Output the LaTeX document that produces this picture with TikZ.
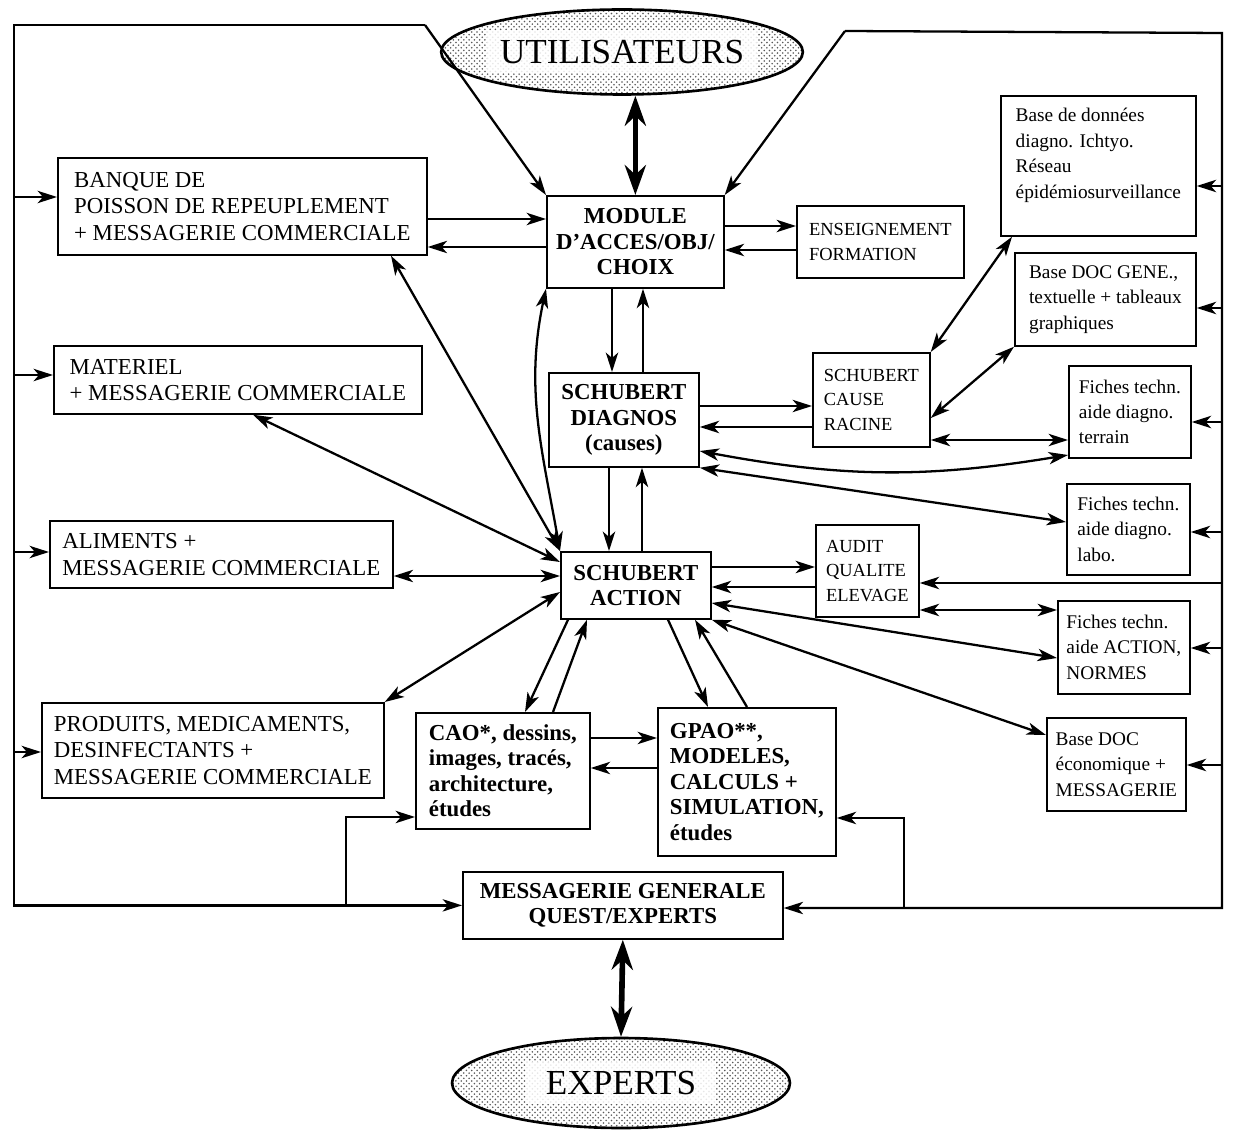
\documentclass[tikz,border=0pt]{standalone}
\usepackage{fontspec}
\setmainfont{Liberation Serif}
\usetikzlibrary{arrows.meta, shapes.geometric, patterns}

\begin{document}
\begin{tikzpicture}[
        x=0.02cm, y=-0.02cm,
        box/.style={draw, line width=1pt, anchor=north west, inner sep=0pt, align=left, font=\fontsize{13}{15}\selectfont},
        bbox/.style={box, align=center, font=\fontsize{13}{14.5}\selectfont\bfseries},
        sbox/.style={box, font=\fontsize{10.5}{14}\selectfont},
        tbox/.style={box, font=\fontsize{11}{14.5}\selectfont},
        actor/.style={ellipse, draw, line width=1.5pt, pattern=crosshatch dots, pattern color=black!65, font=\fontsize{20}{24}\selectfont,
            path picture={\fill[white, opacity=.85] ([xshift=-#1, yshift=-0.42cm]path picture bounding box.center) rectangle ([xshift=#1, yshift=0.42cm]path picture bounding box.center);}},
        link/.style={line width=1.3pt},
        arr/.style={link, -{Stealth[length=11pt, width=7pt, inset=3pt]}},
        darr/.style={link, {Stealth[length=11pt, width=7pt, inset=3pt]}-{Stealth[length=11pt, width=7pt, inset=3pt]}},
        fat/.style={line width=3.2pt, {Stealth[length=17pt, width=12pt]}-{Stealth[length=17pt, width=12pt]}}
    ]
%
    \useasboundingbox (0,0) rectangle (1239,1131);
%
    % Users and experts
    \node[actor=2.7cm, minimum width=6.1cm, minimum height=1.7cm] (util) at (622,52) {UTILISATEURS};
    \node[actor=1.9cm, minimum width=6.76cm, minimum height=1.8cm] (experts) at (621,1083) {EXPERTS};
%
    % Left column
    \node[box, minimum width=7.38cm, minimum height=1.94cm] (banque) at (57,157) {BANQUE DE\\POISSON DE REPEUPLEMENT\\+ MESSAGERIE COMMERCIALE};
    \node[box, minimum width=7.36cm, minimum height=1.36cm] (materiel) at (53,345) {MATERIEL\\+ MESSAGERIE COMMERCIALE};
    \node[box, minimum width=6.86cm, minimum height=1.34cm] (aliments) at (49,520) {ALIMENTS +\\MESSAGERIE COMMERCIALE};
    \node[box, minimum width=6.84cm, minimum height=1.90cm] (produits) at (41,702) {PRODUITS, MEDICAMENTS,\\DESINFECTANTS +\\MESSAGERIE COMMERCIALE};
%
    % Centre
    \node[bbox, minimum width=3.54cm, minimum height=1.84cm] (module) at (546,195) {MODULE\\D'ACCES/OBJ/\\CHOIX};
    \node[bbox, minimum width=3.00cm, minimum height=1.88cm] (diagnos) at (548,372) {SCHUBERT\\DIAGNOS\\(causes)};
    \node[bbox, minimum width=3.00cm, minimum height=1.34cm] (action) at (560,551) {SCHUBERT\\ACTION};
    \node[bbox, align=left, minimum width=3.48cm, minimum height=2.32cm] (cao) at (415,712) {CAO*, dessins,\\images, tracés,\\architecture,\\études};
    \node[bbox, align=left, minimum width=3.56cm, minimum height=2.96cm] (gpao) at (657,707) {GPAO**,\\MODELES,\\CALCULS +\\SIMULATION,\\études};
    \node[bbox, minimum width=6.40cm, minimum height=1.34cm] (messagerie) at (462,871) {MESSAGERIE GENERALE\\QUEST/EXPERTS};
%
    % Middle right
    \node[sbox, minimum width=3.34cm, minimum height=1.44cm] (enseign) at (796,205) {ENSEIGNEMENT\\FORMATION};
    \node[sbox, minimum width=2.34cm, minimum height=1.88cm] (cause) at (812,352) {SCHUBERT\\CAUSE\\RACINE};
    \node[sbox, minimum width=2.06cm, minimum height=1.84cm] (audit) at (815,524) {AUDIT\\QUALITE\\ELEVAGE};
%
    % Right column
    \node[tbox, minimum width=3.90cm, minimum height=2.80cm] (basedonnees) at (1000,95) {Base de données\\diagno. Ichtyo.\\Réseau\\épidémiosurveillance\\~};
    \node[tbox, minimum width=3.62cm, minimum height=1.86cm] (basegene) at (1014,252) {Base DOC GENE.,\\textuelle + tableaux\\graphiques};
    \node[tbox, minimum width=2.44cm, minimum height=1.84cm] (fterrain) at (1068,365) {Fiches techn.\\aide diagno.\\terrain};
    \node[tbox, minimum width=2.46cm, minimum height=1.82cm] (flabo) at (1066,483) {Fiches techn.\\aide diagno.\\labo.};
    \node[tbox, minimum width=2.64cm, minimum height=1.86cm] (faction) at (1057,600) {Fiches techn.\\aide ACTION,\\NORMES};
    \node[tbox, minimum width=2.78cm, minimum height=1.86cm] (baseeco) at (1046,717) {Base DOC\\économique +\\MESSAGERIE};
%
    % Buses
    \coordinate (ltop) at (425,25);
    \coordinate (lbus) at (14,25);
    \coordinate (rtop) at (845,31);
    \coordinate (rbus) at (1222,33);
    \draw[arr] (ltop) -- (lbus) -- (lbus |- messagerie.west) -- (messagerie.west);
    \draw[arr] (ltop) -- (module.north west);
    \draw[arr] (rtop) -- (rbus) -- (rbus |- 0,908) -- (messagerie.east |- 0,908);
    \draw[arr] (rtop) -- (module.north east);
    \foreach \b/\yy in {banque/197, materiel/375, aliments/552, produits/752}
        \draw[arr] (lbus |- 0,\yy) -- (\b.west |- 0,\yy);
    \foreach \b/\yy in {basedonnees/186, basegene/308, fterrain/422, flabo/532, faction/648, baseeco/765}
        \draw[arr] (rbus |- 0,\yy) -- (\b.east |- 0,\yy);
    \draw[arr] (rbus |- 0,583) -- (audit.east |- 0,583);
    \draw[arr] (346,904) -- (346,817) -- (cao.west |- 0,817);
    \draw[arr] (904,908) -- (904,818) -- (gpao.east |- 0,818);
%
    % Users / experts
    \draw[fat] (module.north) -- (module.north |- util.south);
    \draw[fat] (messagerie.south) -- (experts.north);
%
    % Pairs of arrows
    \draw[arr] (banque.east |- 0,219) -- (module.west |- 0,219);
    \draw[arr] (module.west |- 0,247) -- (banque.east |- 0,247);
    \draw[arr] (module.east |- 0,226) -- (enseign.west |- 0,226);
    \draw[arr] (enseign.west |- 0,250) -- (module.east |- 0,250);
    \draw[arr] (module.south -| 612,0) -- (diagnos.north -| 612,0);
    \draw[arr] (diagnos.north -| 643,0) -- (module.south -| 643,0);
    \draw[arr] (diagnos.south -| 609,0) -- (action.north -| 609,0);
    \draw[arr] (action.north -| 642,0) -- (diagnos.south -| 642,0);
    \draw[arr] (diagnos.east |- 0,406) -- (cause.west |- 0,406);
    \draw[arr] (cause.west |- 0,427) -- (diagnos.east |- 0,427);
    \draw[arr] (action.east |- 0,567) -- (audit.west |- 0,567);
    \draw[arr] (audit.west |- 0,587) -- (action.east |- 0,587);
    \draw[arr] (cao.east |- 0,738) -- (gpao.west |- 0,738);
    \draw[arr] (gpao.west |- 0,768) -- (cao.east |- 0,768);
    \draw[arr] (action.south -| 568,0) -- (cao.north -| 525,0);
    \draw[arr] (cao.north -| 553,0) -- (action.south -| 587,0);
    \draw[arr] (action.south -| 668,0) -- (gpao.north -| 708,0);
    \draw[arr] (gpao.north -| 747,0) -- (action.south -| 695,0);
%
    % Two-way links
    \draw[darr] (banque.south -| 391,0) -- (action.north west);
    \draw[darr] (module.south west) to[out=-102, in=100] (action.north west);
    \draw[darr] (materiel.south -| 253,0) -- (action.west |- 0,562);
    \draw[darr] (aliments.east |- 0,576) -- (action.west |- 0,576);
    \draw[darr] (produits.north east) -- (action.west |- 0,592);
    \draw[darr] (cause.north east) -- (basedonnees.south -| 1012,0);
    \draw[darr] (cause.east |- 0,418) -- (basegene.south west);
    \draw[darr] (cause.east |- 0,440) -- (fterrain.west |- 0,440);
    \draw[darr] (diagnos.east |- 0,451) to[bend right=10] (fterrain.west |- 0,455);
    \draw[darr] (diagnos.south east) -- (flabo.west |- 0,522);
    \draw[darr] (action.east |- 0,603) -- (faction.west |- 0,658);
    \draw[darr] (action.south east) -- (baseeco.west |- 0,735);
    \draw[darr] (audit.east |- 0,610) -- (faction.west |- 0,610);
%
\end{tikzpicture}
\end{document}
